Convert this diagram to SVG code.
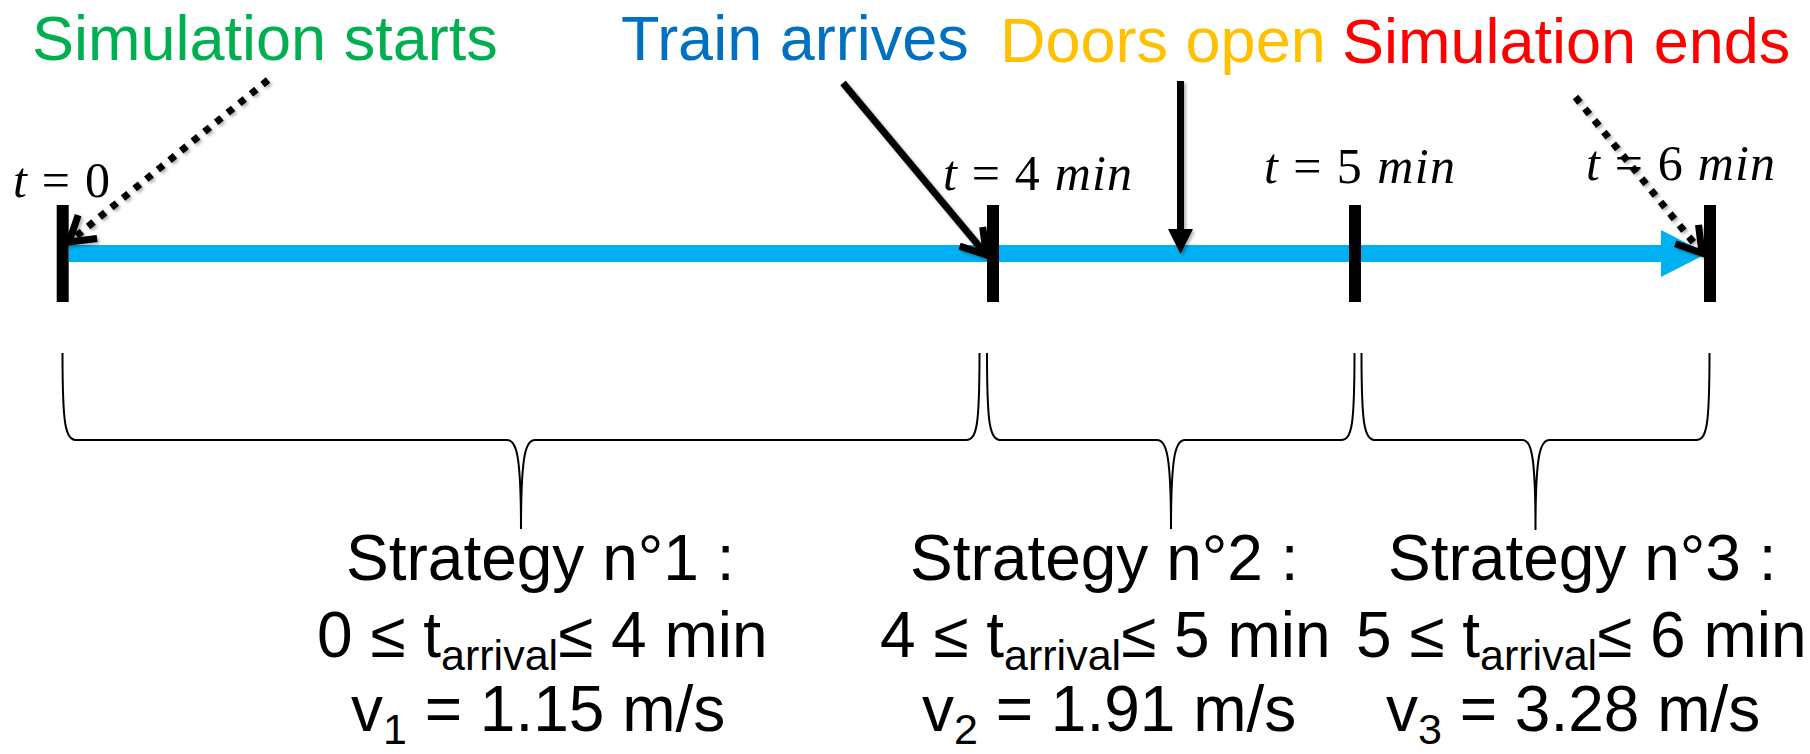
<svg xmlns="http://www.w3.org/2000/svg" width="1810" height="754" viewBox="0 0 1810 754">
  <style>
    .hdr { font-family: "Liberation Sans", Arial, sans-serif; font-size: 63px; }
    .math { font-family: "Liberation Serif", "Times New Roman", serif; font-size: 50px; fill: #000; }
    .it { font-style: italic; }
    .strat { font-family: "Liberation Sans", Arial, sans-serif; font-size: 64px; fill: #000; }
    .sub { font-size: 43px; }
    .tick { stroke: #000; stroke-width: 12; }
    .brace { fill: none; stroke: #000; stroke-width: 2; }
    .arrow { fill: none; stroke: #000; stroke-width: 7; }
    .dotted { stroke-dasharray: 7 8; }
  </style>
  <defs>
    <filter id="shadow" x="-20%" y="-20%" width="140%" height="140%">
      <feDropShadow dx="2" dy="2" stdDeviation="1.5" flood-color="#000" flood-opacity="0.3"/>
    </filter>
    <marker id="openArrow" markerUnits="userSpaceOnUse" viewBox="-32 -20 36 40" markerWidth="36" markerHeight="40" refX="0" refY="0" orient="auto" overflow="visible">
      <path d="M-24,-15 L0,0 L-24,15" fill="none" stroke="#000" stroke-width="7" stroke-dasharray="none" stroke-linejoin="miter"/>
    </marker>
  </defs>

  <!-- headers -->
  <g id="label-sim-start"><text class="hdr" x="32" y="60" fill="#00B050">Simulation starts</text></g>
  <g id="label-train"><text class="hdr" x="621" y="60" fill="#0070C0">Train arrives</text></g>
  <g id="label-doors"><text class="hdr" x="1000" y="62" fill="#FFC000">Doors open</text></g>
  <g id="label-sim-end"><text class="hdr" x="1342" y="63" fill="#FF0000">Simulation ends</text></g>

  <!-- timeline -->
  <g id="timeline">
    <line x1="69" y1="253.5" x2="1663" y2="253.5" stroke="#00B0F0" stroke-width="17"/>
    <polygon points="1661,230 1661,277 1707,253.5" fill="#00B0F0"/>
  </g>
  <g id="tick-0"><line class="tick" x1="62.7" y1="205" x2="62.7" y2="302"/></g>
  <g id="tick-4"><line class="tick" x1="993" y1="205" x2="993" y2="302"/></g>
  <g id="tick-5"><line class="tick" x1="1355" y1="205" x2="1355" y2="302"/></g>
  <g id="tick-6"><line class="tick" x1="1710" y1="205" x2="1710" y2="302"/></g>

  <!-- time labels -->
  <g id="time-0"><text class="math" x="13" y="197" textLength="97" lengthAdjust="spacing"><tspan class="it">t</tspan> = 0</text></g>
  <g id="time-4"><text class="math" x="943" y="190" textLength="189" lengthAdjust="spacing"><tspan class="it">t</tspan> = 4 <tspan class="it">min</tspan></text></g>
  <g id="time-5"><text class="math" x="1264" y="183" textLength="191" lengthAdjust="spacing"><tspan class="it">t</tspan> = 5 <tspan class="it">min</tspan></text></g>
  <g id="time-6"><text class="math" x="1586" y="180" textLength="189" lengthAdjust="spacing"><tspan class="it">t</tspan> = 6 <tspan class="it">min</tspan></text></g>

  <!-- braces -->
  <g id="brace-1"><path class="brace" d="M62.5,353 C62.5,425 65,440 77,440 H507 C516,440 521,452 521,529 C521,452 526,440 535,440 H966 C977,440 979.5,425 979.5,353"/></g>
  <g id="brace-2"><path class="brace" d="M987,353 C987,425 989.5,440 1001.5,440 H1157 C1166,440 1171,452 1171,529 C1171,452 1176,440 1185,440 H1341 C1352,440 1354.5,425 1354.5,353"/></g>
  <g id="brace-3"><path class="brace" d="M1361.5,353 C1361.5,425 1364,440 1376,440 H1522 C1531,440 1535.5,452 1535.5,530 C1535.5,452 1540.5,440 1549.5,440 H1696 C1707,440 1709.5,425 1709.5,353"/></g>

  <!-- strategies -->
  <g id="strategy-1">
    <text class="strat" x="346" y="580">Strategy n°1 :</text>
    <text class="strat" x="317" y="657">0 ≤ t<tspan class="sub" dy="13">arrival</tspan><tspan dy="-13">≤ 4 min</tspan></text>
    <text class="strat" x="351" y="731">v<tspan class="sub" dy="13">1</tspan><tspan dy="-13"> = 1.15 m/s</tspan></text>
  </g>
  <g id="strategy-2">
    <text class="strat" x="910" y="580">Strategy n°2 :</text>
    <text class="strat" x="880" y="657">4 ≤ t<tspan class="sub" dy="13">arrival</tspan><tspan dy="-13">≤ 5 min</tspan></text>
    <text class="strat" x="922" y="731">v<tspan class="sub" dy="13">2</tspan><tspan dy="-13"> = 1.91 m/s</tspan></text>
  </g>
  <g id="strategy-3">
    <text class="strat" x="1388" y="580">Strategy n°3 :</text>
    <text class="strat" x="1356" y="657">5 ≤ t<tspan class="sub" dy="13">arrival</tspan><tspan dy="-13">≤ 6 min</tspan></text>
    <text class="strat" x="1386" y="731">v<tspan class="sub" dy="13">3</tspan><tspan dy="-13"> = 3.28 m/s</tspan></text>
  </g>

  <!-- connectors -->
  <g id="connectors" filter="url(#shadow)">
    <line class="arrow dotted" x1="268" y1="80" x2="69" y2="242" marker-end="url(#openArrow)"/>
    <line class="arrow" x1="843" y1="83" x2="986.5" y2="255" marker-end="url(#openArrow)"/>
    <g>
      <line class="arrow" x1="1180.5" y1="81" x2="1180.5" y2="232"/>
      <polygon points="1168,229 1193,229 1180.5,254" fill="#000"/>
    </g>
    <line class="arrow dotted" x1="1575.5" y1="97" x2="1702" y2="253" marker-end="url(#openArrow)"/>
  </g>
</svg>
